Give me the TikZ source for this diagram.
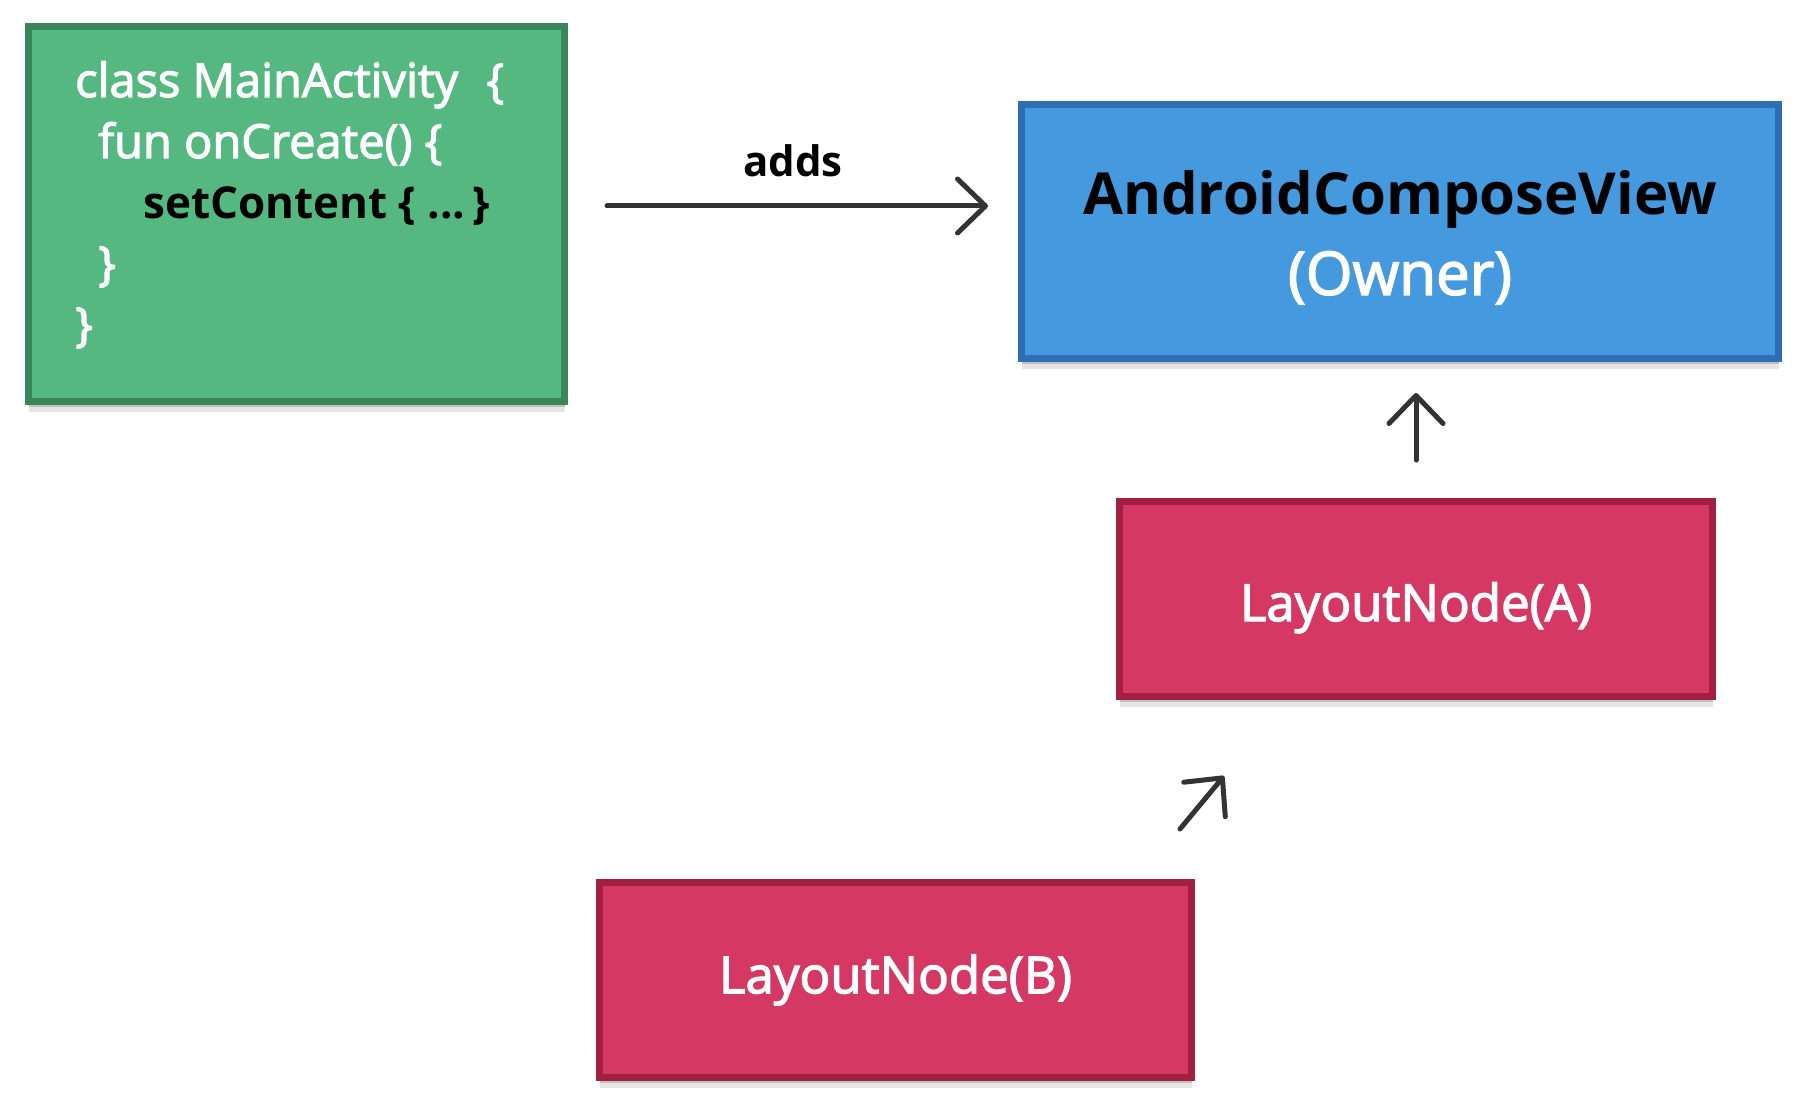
\documentclass[tikz,border=0pt]{standalone}
\usepackage{fontspec}
\setmainfont{Open Sans}
\newfontfamily\semib{Open Sans}[FakeBold=2.5]
\usetikzlibrary{arrows.meta,shadows}
\definecolor{gfill}{HTML}{55B880}
\definecolor{gline}{HTML}{3A8559}
\definecolor{bfill}{HTML}{4599DF}
\definecolor{bline}{HTML}{2F6DB5}
\definecolor{rfill}{HTML}{D53963}
\definecolor{rline}{HTML}{A31F41}
\definecolor{arrowc}{HTML}{333333}
\tikzset{
  box/.style={rectangle, line width=7pt, inner sep=0pt,
    drop shadow={opacity=0.10, shadow xshift=0pt, shadow yshift=-10pt, shadow scale=1.0, fill=black},
    drop shadow={opacity=0.16, shadow xshift=0pt, shadow yshift=-5pt, fill=black}},
  codeline/.style={anchor=base west, inner sep=0pt, font=\semib\fontsize{47}{52}\selectfont, text=white},
  arr/.style={draw=arrowc, line width=5pt, line cap=round,
    -{Straight Barb[length=28pt, width=54pt, line width=5pt, line cap=round, line join=round]}},
}
\begin{document}
\begin{tikzpicture}[x=1pt,y=-1pt]
\useasboundingbox (0,0) rectangle (1802,1102);
\fill[white] (0,0) rectangle (1802,1102);

\node[box, draw=gline, fill=gfill, minimum width=536pt, minimum height=375pt] (green) at (296.5,214) {};
\node[codeline] (c1) at (75,97) {class MainActivity\hspace{0.6em}\{};
\node[codeline] (c2) at (98,158) {fun onCreate() \{};
\node[codeline, text=black, font=\bfseries\fontsize{44}{52}\selectfont] (c3) at (143,219) {setContent \{ ...\,\}};
\node[codeline] (c4) at (98,280) {\}};
\node[codeline] (c5) at (75,341) {\}};

\node[box, draw=bline, fill=bfill, minimum width=757pt, minimum height=254pt, align=center,
  font=\fontsize{58}{80}\selectfont] (blue) at (1400,231.5)
  {\rule{0pt}{56pt}{\bfseries AndroidComposeView}\\{\semib\fontsize{60}{80}\selectfont\color{white}(Owner)}};

\node[box, draw=rline, fill=rfill, minimum width=593pt, minimum height=195pt,
  font=\semib\fontsize{51}{60}\selectfont, text=white, text height=46pt, text depth=2pt] (A) at (1416,599) {LayoutNode(A)};
\node[box, draw=rline, fill=rfill, minimum width=592pt, minimum height=195pt,
  font=\semib\fontsize{51}{60}\selectfont, text=white] (B) at (895.5,980) {LayoutNode(B)};

\coordinate (ay) at (0,206);
\draw[arr, shorten <=39pt, shorten >=30pt] (green.east |- ay) -- (blue.west |- ay)
  node[pos=0.5, above=27pt, inner sep=0pt, font=\bfseries\fontsize{42}{48}\selectfont, text=black] (lbl) {adds};
\draw[arr, shorten <=38pt, shorten >=31pt] (A.north) -- (A.north |- blue.south);
\coordinate (d1) at (1180,829);
\coordinate (d2) at (1224,776);
\draw[arr] (d1) -- (d2);
\end{tikzpicture}
\end{document}
